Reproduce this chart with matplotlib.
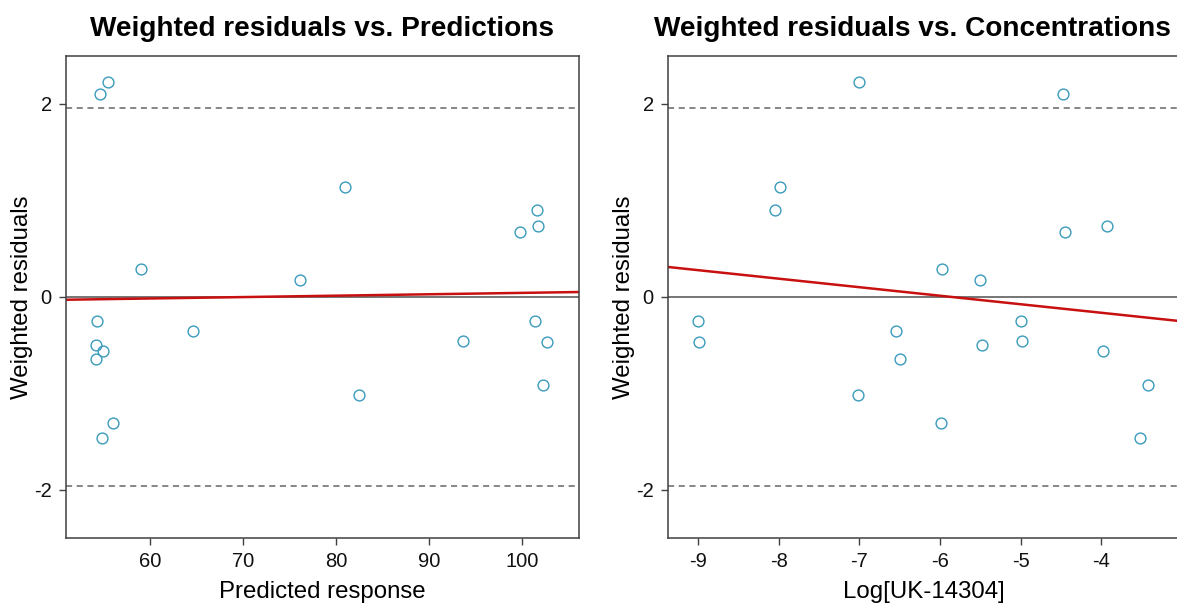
import numpy as np
import matplotlib
matplotlib.use('Agg')
import matplotlib.pyplot as plt

plt.rcParams['font.family'] = ['Liberation Sans', 'DejaVu Sans']

# Du lieu doc tu hinh
resid = [2.23, 2.10, 1.14, 0.90, 0.29, 0.173, 0.67, 0.73,
         -0.248, -0.254, -0.50, -0.56, -0.645, -1.31, -1.46,
         -0.35, -1.02, -0.455, -0.465, -0.91]
pred = [55.52, 54.59, 80.97, 101.6, 59.0, 76.13, 99.84, 101.69,
        54.3, 101.44, 54.16, 54.91, 54.16, 56.06, 54.87,
        64.66, 82.44, 93.7, 102.68, 102.22]
conc = [-7.0, -4.48, -7.98, -8.04, -5.98, -5.50, -4.45, -3.93,
        -9.0, -4.99, -5.48, -3.98, -6.50, -5.99, -3.52,
        -6.54, -7.01, -4.98, -8.99, -3.42]

# Duong xu huong (mau do)
fit_pred_x = [50.94, 106.1]
fit_pred_y = [-0.03, 0.05]
fit_conc_x = [-9.375, -3.016]
fit_conc_y = [0.31, -0.252]

limit = 1.96
titles = ['Weighted residuals vs. Predictions', 'Weighted residuals vs. Concentrations']
title_x = [0.5, 0.477]
xlabels = ['Predicted response', 'Log[UK-14304]']
xticks_list = [[60, 70, 80, 90, 100], [-9, -8, -7, -6, -5, -4]]
xlims = [(50.94, 106.1), (-9.375, -3.016)]

W, H = 1177, 605
fig = plt.figure(figsize=(W / 100, H / 100), dpi=100)
ax1 = fig.add_axes([65.7 / W, 67 / H, 513 / W, 482.3 / H])
ax2 = fig.add_axes([667.7 / W, 67 / H, 513 / W, 482.3 / H])

point_color = '#3a9bbb'
red = '#c81010'
frame = '#404040'

for i, (ax, xs, fx, fy) in enumerate([(ax1, pred, fit_pred_x, fit_pred_y),
                                     (ax2, conc, fit_conc_x, fit_conc_y)]):
    ax.axhline(0, color='#505050', lw=1.1, zorder=1)
    ax.axhline(limit, color='#666666', lw=1.1, ls=(0, (4, 3)), zorder=1)
    ax.axhline(-limit, color='#666666', lw=1.1, ls=(0, (4, 3)), zorder=1)
    ax.plot(fx, fy, color=red, lw=1.8, zorder=2)
    ax.plot(xs, resid, 'o', mfc='none', mec=point_color, mew=1.0, ms=7.8, zorder=3)

    ax.set_xlim(*xlims[i])
    ax.set_ylim(-2.5, 2.5)
    ax.set_xticks(xticks_list[i])
    ax.set_yticks([-2, 0, 2])
    ax.set_yticklabels(['-2', '0', '2'])
    ax.set_xticklabels([str(t) for t in xticks_list[i]])
    ax.tick_params(length=5, width=1, color=frame, labelsize=14.5, pad=5, labelcolor='#111111')
    for s in ax.spines.values():
        s.set_color(frame)
        s.set_linewidth(1.1)

    ax.set_title(titles[i], fontsize=20.2, fontweight='bold', pad=14, x=title_x[i])
    ax.set_xlabel(xlabels[i], fontsize=17.3, labelpad=7)
    ax.set_ylabel('Weighted residuals', fontsize=17.3, labelpad=1)

fig.savefig('out.png', dpi=100)
